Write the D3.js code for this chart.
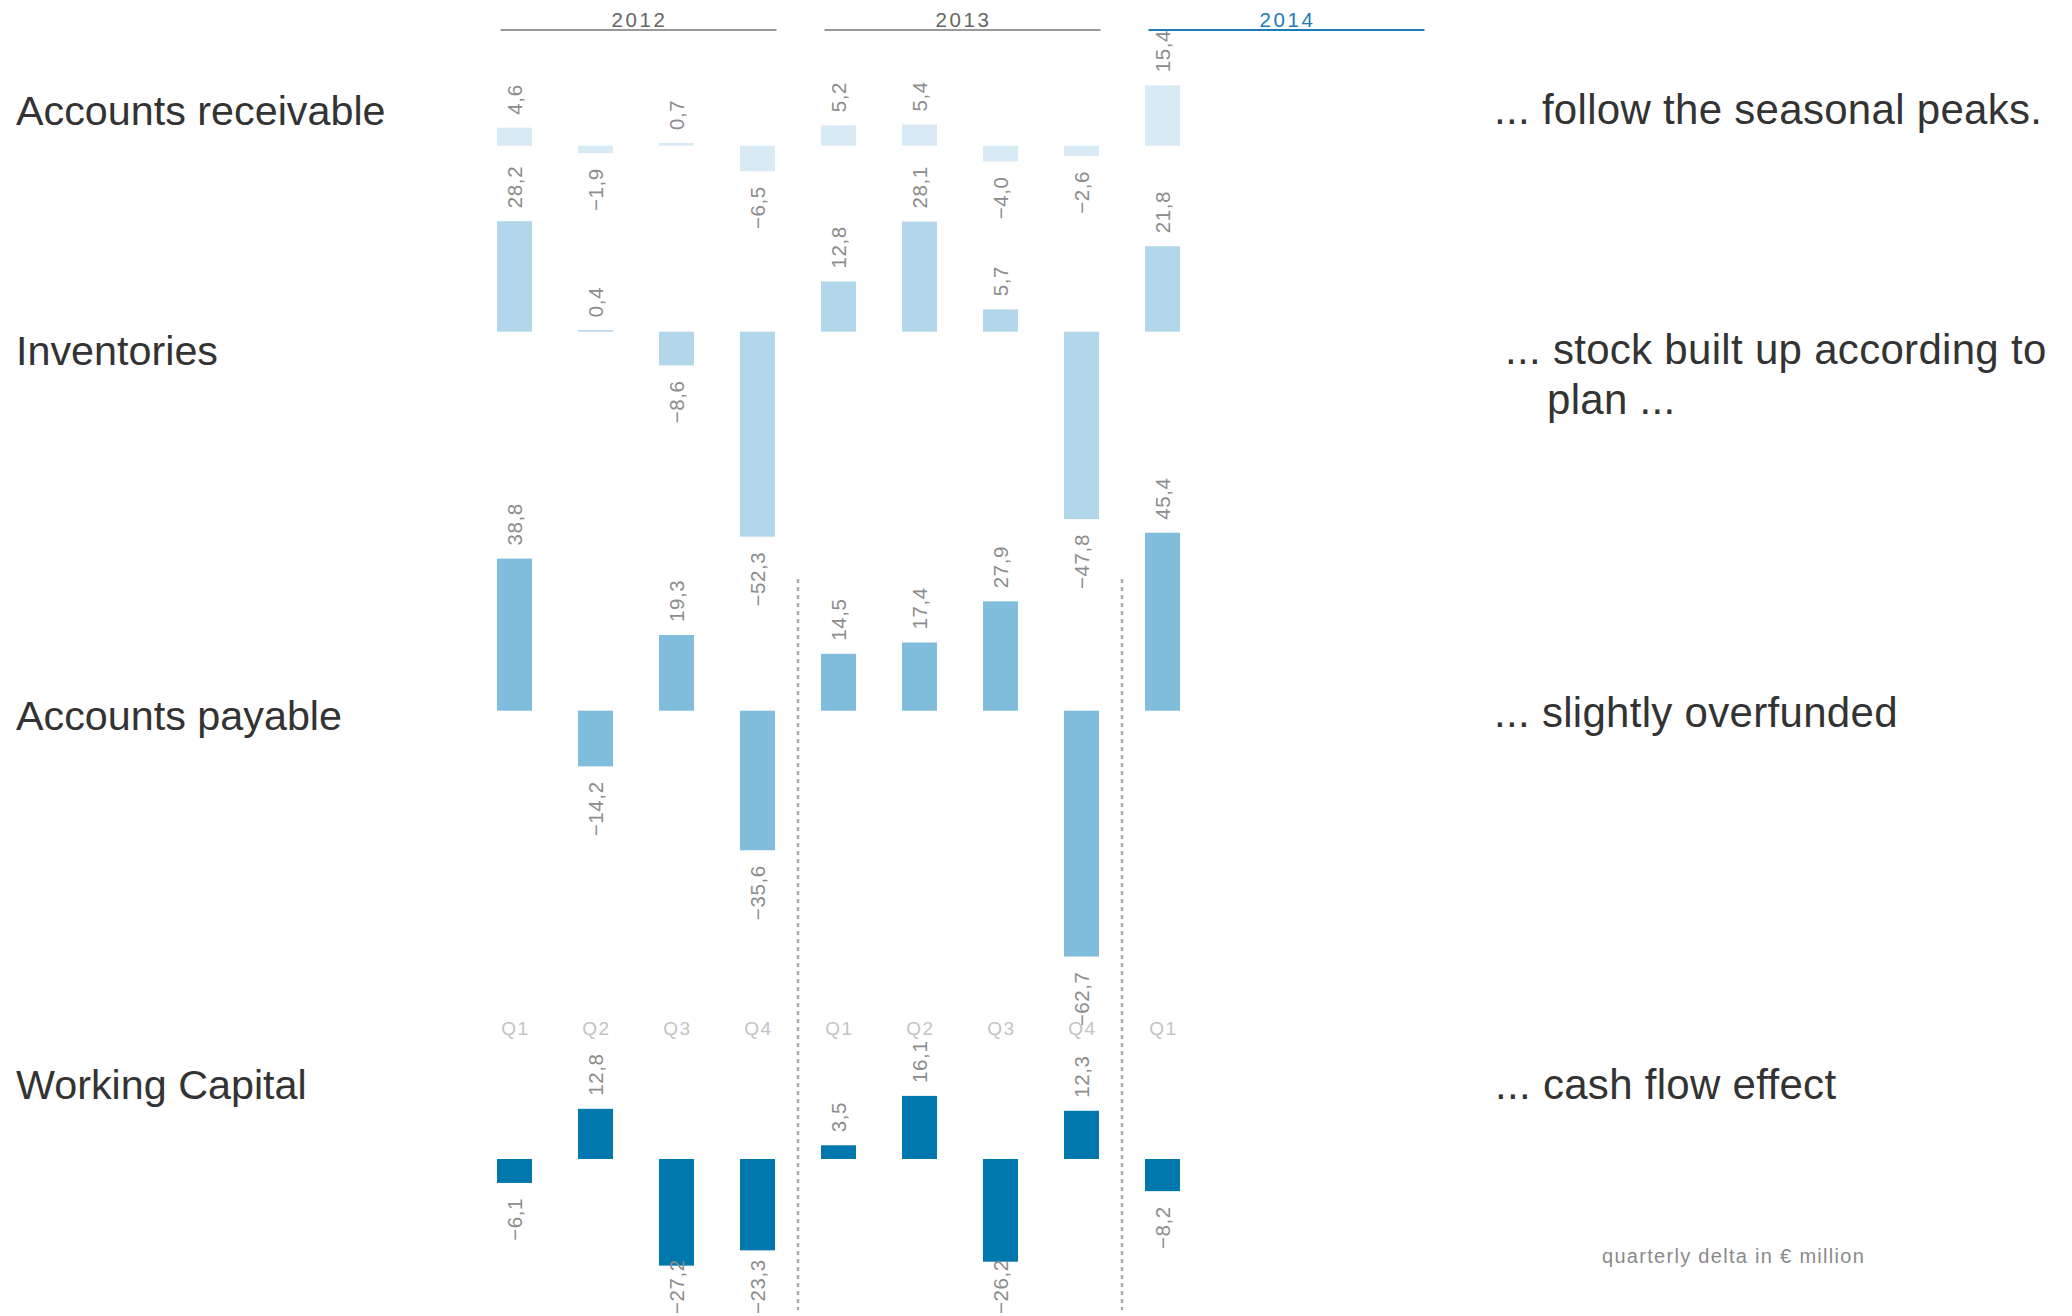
<!DOCTYPE html>
<html>
<head>
<meta charset="utf-8">
<script src="https://cdn.jsdelivr.net/npm/d3@7"></script>
<style>
  html, body { margin: 0; padding: 0; background: #ffffff; }
  svg { display: block; }
  text { font-family: "Liberation Sans", Arial, Helvetica, sans-serif; }
</style>
</head>
<body>
<svg id="chart" width="2072" height="1316"></svg>
<script>
// Quarterly deltas in € million, 2012 Q1 … 2014 Q1
const years = ["2012", "2013", "2014"];
const quarterNames = ["Q1", "Q2", "Q3", "Q4"];
const quarters = ["Q1", "Q2", "Q3", "Q4", "Q1", "Q2", "Q3", "Q4", "Q1"];
const receivables = [4.6, -1.9, 0.7, -6.5, 5.2, 5.4, -4.0, -2.6, 15.4];
const inventories = [28.2, 0.4, -8.6, -52.3, 12.8, 28.1, 5.7, -47.8, 21.8];
const payables = [38.8, -14.2, 19.3, -35.6, 14.5, 17.4, 27.9, -62.7, 45.4];
const workingCapital = [-6.1, 12.8, -27.2, -23.3, 3.5, 16.1, -26.2, 12.3, -8.2];

const seriesNames = ["Accounts receivable", "Inventories", "Accounts payable", "Working Capital"];
const comments = [
  ["... follow the seasonal peaks."],
  ["... stock built up according to", "plan ..."],
  ["... slightly overfunded"],
  ["... cash flow effect"]
];
const unitNote = "quarterly delta in € million";

// ---- layout ----
const W = 2072, H = 1316;
const svg = d3.select("#chart");

// every quarter slot of the three years (2014 keeps room for a full year)
const slots = [];
years.forEach(y => quarterNames.forEach(q => slots.push(y + "-" + q)));
const dataSlots = slots.slice(0, quarters.length);

const x = d3.scalePoint().domain(slots).range([514.5, 514.5 + 81 * (slots.length - 1)]);
const barW = 35;
const pxPerUnit = 3.92;

const panels = [
  { name: seriesNames[0], values: receivables, color: "#d8eaf4", base: 145.7, labelY: 125, notes: comments[0], noteX: [1494], noteY: [123.5] },
  { name: seriesNames[1], values: inventories, color: "#b3d7ea", base: 331.7, labelY: 365, notes: comments[1], noteX: [1505, 1547], noteY: [363.5, 413.5] },
  { name: seriesNames[2], values: payables, color: "#80bcdc", base: 710.7, labelY: 730, notes: comments[2], noteX: [1494], noteY: [727] },
  { name: seriesNames[3], values: workingCapital, color: "#0077ad", base: 1159, labelY: 1098.5, notes: comments[3], noteX: [1495], noteY: [1098.5] }
];

const fmt = d3.formatLocale({ decimal: ",", thousands: ".", grouping: [3], currency: ["", " €"], minus: "\u2212" }).format(".1f");

// ---- year headers ----
const yearColor = ["#666666", "#666666", "#1a7db5"];
const lineColor = ["#999999", "#999999", "#1a7db5"];
years.forEach((yr, i) => {
  const x0 = x(yr + "-Q1") - 14;
  const x1 = x(yr + "-Q4") + 19;
  svg.append("line")
    .attr("x1", x0).attr("x2", x1)
    .attr("y1", 30).attr("y2", 30)
    .attr("stroke", lineColor[i]).attr("stroke-width", 1.8);
  svg.append("text")
    .attr("x", (x0 + x1) / 2 + 1).attr("y", 26.5)
    .attr("text-anchor", "middle")
    .attr("font-size", 20.5).attr("letter-spacing", 2.6)
    .attr("fill", yearColor[i])
    .text(yr);
});

// ---- dotted year separators ----
years.slice(1).forEach(yr => {
  const prevQ4 = slots[slots.indexOf(yr + "-Q1") - 1];
  const sx = (x(prevQ4) + x(yr + "-Q1")) / 2;
  svg.append("line")
    .attr("x1", sx).attr("x2", sx)
    .attr("y1", 579).attr("y2", 1310)
    .attr("stroke", "#aaaaaa").attr("stroke-width", 2.4)
    .attr("stroke-dasharray", "4 4");
});

// ---- quarter labels ----
svg.append("g").selectAll("text")
  .data(quarters)
  .join("text")
  .attr("x", (d, i) => x(dataSlots[i]) + 1)
  .attr("y", 1035)
  .attr("text-anchor", "middle")
  .attr("font-size", 19).attr("letter-spacing", 1.5)
  .attr("fill", "#c4c4c4")
  .text(d => d);

// ---- panels ----
panels.forEach(p => {
  const y = d3.scaleLinear().domain([0, 10]).range([p.base, p.base - 10 * pxPerUnit]);
  const g = svg.append("g");

  g.selectAll("rect")
    .data(p.values)
    .join("rect")
    .attr("x", (d, i) => x(dataSlots[i]) - barW / 2)
    .attr("y", d => Math.min(y(d), y(0)))
    .attr("width", barW)
    .attr("height", d => Math.abs(y(d) - y(0)))
    .attr("fill", p.color);

  const labels = g.selectAll("text.value")
    .data(p.values)
    .join("text")
    .attr("class", "value")
    .attr("font-size", 20.5).attr("letter-spacing", 0.6)
    .attr("fill", "#8c8c8c")
    .attr("dy", "0.35em")
    .attr("text-anchor", d => d >= 0 ? "start" : "end")
    .text(d => fmt(d));

  labels.each(function (d, i) {
    const len = this.getComputedTextLength();
    const cx = x(dataSlots[i]);
    let ly;
    if (d >= 0) {
      ly = y(d) - 13;
    } else {
      ly = y(d) + 15;
      if (ly + len > H - 2) ly = H - 2 - len;
    }
    d3.select(this).attr("transform", `translate(${cx},${ly}) rotate(-90)`);
  });

  // row title
  svg.append("text")
    .attr("x", 16).attr("y", p.labelY)
    .attr("font-size", 41.3).attr("fill", "#333333")
    .text(p.name);

  // commentary
  p.notes.forEach((t, k) => {
    svg.append("text")
      .attr("x", p.noteX[k]).attr("y", p.noteY[k])
      .attr("font-size", 42).attr("letter-spacing", 0.3).attr("fill", "#333333")
      .text(t);
  });
});

// unit note
svg.append("text")
  .attr("x", 1602).attr("y", 1263)
  .attr("font-size", 20).attr("letter-spacing", 1.3)
  .attr("fill", "#8a8a8a")
  .text(unitNote);
</script>
</body>
</html>
